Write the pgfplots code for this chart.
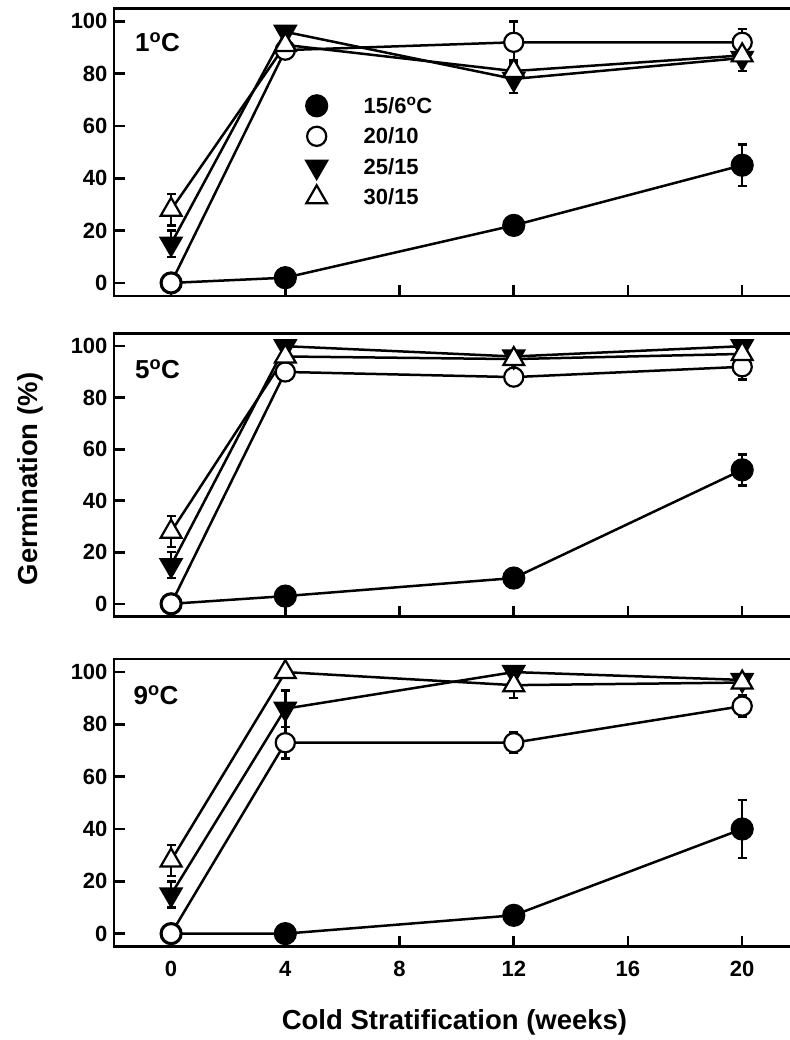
\documentclass[border=0pt]{standalone}
\usepackage{fontspec}
\setmainfont{Liberation Sans}
\usepackage{pgfplots}
\pgfplotsset{compat=1.18}
\usepackage{pgfplotstable}

% x, 15/6 (a), 20/10 (b), 25/15 (c), 30/15 (d), with errors
\pgfplotstableread{
x  a  ea  b  eb  c   ec   d  ed
0  0  0   0  0   15  5    28 6
4  2  2   89 2   96  2    91 2
12 22 2   92 8   78  5.5  81 4
20 45 8   92 5   86  5    87 3
}\dataA
\pgfplotstableread{
x  a  ea  b  eb  c   ec   d  ed
0  0  0   0  0   15  5    28 6
4  3  2   90 2   100 0.5  96 1
12 10 1.5 88 2   96  1    95 2
20 52 6   92 5   100 1    97 2
}\dataB
\pgfplotstableread{
x  a  ea  b  eb  c   ec   d  ed
0  0  0   0  0   15  5    28 6
4  0  0   73 6   86  7    100 1
12 7  1.5 73 4   100 1    95 4.8
20 40 11  87 4   97  2    96 2
}\dataC

\tikzset{plab/.style={anchor=base west, inner sep=0pt, font=\bfseries\fontsize{26}{30}\selectfont}}

\pgfplotsset{
  panel/.style={
    scale only axis, width=675pt,
    xmin=-2, xmax=21.64, ymin=-5, ymax=105,
    axis y line*=left, axis x line*=box,
    y axis line style={-},
    axis line style={line width=2.9pt, line cap=rect},
    tick pos=left, tick align=inside,
    major tick length=11pt,
    tick style={line width=2.6pt, black},
    xtick={0,4,...,20}, ytick={0,20,...,100},
    /pgf/number format/assume math mode=true,
    ticklabel style={font=\bfseries\fontsize{22}{26}\selectfont},
    yticklabel style={xshift=-3pt},
    clip=false,
    every axis plot/.append style={line width=2.5pt, black},
    error bars/y dir=both, error bars/y explicit,
    error bars/error bar style={line width=2.4pt, solid},
    error bars/error mark options={rotate=90, mark size=4.5pt, line width=2.4pt},
  },
  sA/.style={mark=*, mark size=10.5pt, mark options={fill=black, line width=2.2pt, solid}},
  sB/.style={mark=*, mark size=9.6pt, mark options={fill=white, line width=2.2pt, solid}},
  sC/.style={mark=triangle*, mark size=12pt, mark options={fill=black, rotate=180, line width=2.2pt, solid}},
  sD/.style={mark=triangle*, mark size=12pt, mark options={fill=white, line width=2.2pt, solid}},
}

\begin{document}
\begin{tikzpicture}
\path[use as bounding box] (0,0) rectangle (789pt,-1040pt);

% Panel 1
\begin{axis}[panel, at={(114pt,-296pt)}, anchor=south west, height=287.7pt,
  xticklabels={},
  legend cell align=left,
  legend style={draw=none, fill=none, inner sep=0pt, outer sep=0pt,
    at={(0.281,0.7141)}, anchor=north west,
    font=\bfseries\fontsize{22}{26}\selectfont,
    nodes={inner sep=0pt, outer sep=0pt},
    /tikz/every even column/.append style={column sep=0pt},
    row sep=0pt},
  legend image code/.code={
    \path[draw=none, fill=none] (-13pt,-15.25pt) rectangle (47pt,15.25pt);
    \draw[#1] plot coordinates {(0pt,0pt)};
  },
]
\addplot[sA] table[x=x, y=a, y error=ea] {\dataA};
\addlegendentry{\rule{0pt}{16pt}\smash{15/6\textsuperscript{o}C}}
\addplot[sB] table[x=x, y=b, y error=eb] {\dataA};
\addlegendentry{\rule{0pt}{16pt}\smash{20/10}}
\addplot[sC] table[x=x, y=c, y error=ec] {\dataA};
\addlegendentry{\rule{0pt}{16pt}\smash{25/15}}
\addplot[sD] table[x=x, y=d, y error=ed] {\dataA};
\addlegendentry{\rule{0pt}{16pt}\smash{30/15}}
\node[plab] at (axis cs:-1.27,88.3) {1\textsuperscript{o}C};
\end{axis}

% Panel 2
\begin{axis}[panel, at={(114pt,-616.7pt)}, anchor=south west, height=283.4pt,
  xticklabels={}]
\addplot[sA] table[x=x, y=a, y error=ea] {\dataB};
\addplot[sB] table[x=x, y=b, y error=eb] {\dataB};
\addplot[sC] table[x=x, y=c, y error=ec] {\dataB};
\addplot[sD] table[x=x, y=d, y error=ed] {\dataB};
\node[plab] at (axis cs:-1.27,87.4) {5\textsuperscript{o}C};
\end{axis}

% Panel 3
\begin{axis}[panel, at={(114pt,-946.7pt)}, anchor=south west, height=287.7pt,
  xticklabel style={yshift=-11pt}]
\addplot[sA] table[x=x, y=a, y error=ea] {\dataC};
\addplot[sB] table[x=x, y=b, y error=eb] {\dataC};
\addplot[sC] table[x=x, y=c, y error=ec] {\dataC};
\addplot[sD] table[x=x, y=d, y error=ed] {\dataC};
\node[plab] at (axis cs:-1.32,87.6) {9\textsuperscript{o}C};
\end{axis}

\node[rotate=90, anchor=base, inner sep=0pt, font=\bfseries\fontsize{27.5}{32}\selectfont] at (37.5pt,-479pt) {Germination (\%)};
\node[anchor=base, inner sep=0pt, font=\bfseries\fontsize{27.5}{32}\selectfont] at (454.5pt,-1029.7pt) {Cold Stratification (weeks)};
\end{tikzpicture}
\end{document}
